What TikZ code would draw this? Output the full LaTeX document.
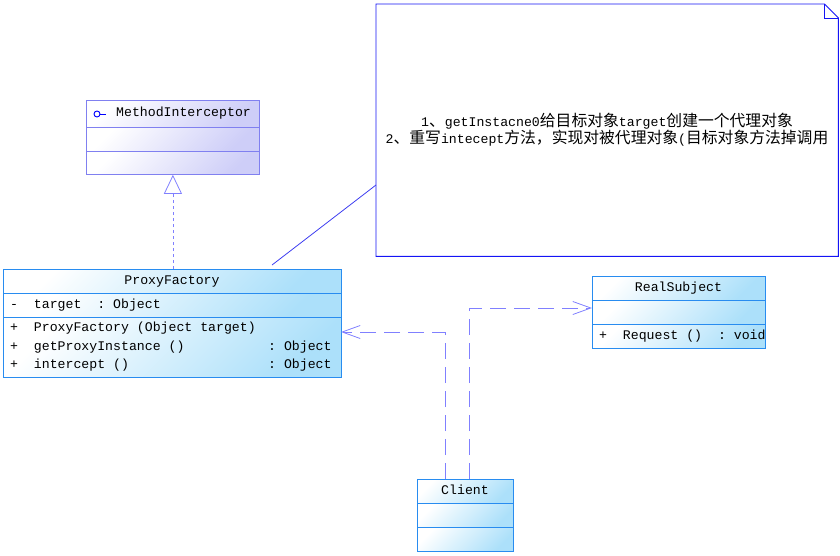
\documentclass[tikz,border=0pt]{standalone}
\usepackage{fontspec}
\setmonofont{Liberation Mono}
\newfontfamily\cjkfont{Noto Sans CJK SC}
\usetikzlibrary{arrows.meta,calc}
\definecolor{miBorder}{RGB}{128,128,240}
\definecolor{miFill}{RGB}{206,206,248}
\definecolor{pfBorder}{RGB}{40,140,240}
\definecolor{pfFill}{RGB}{172,224,250}
\definecolor{noteBorder}{RGB}{20,20,245}
\definecolor{noteLink}{RGB}{60,60,240}
\definecolor{depColor}{RGB}{128,128,255}
\newcommand{\zh}[1]{{\cjkfont\fontsize{15.8}{16}\selectfont #1}}
\begin{document}
\begin{tikzpicture}[x=1pt,y=-1pt,
  mono/.style={font=\ttfamily\fontsize{13.2}{16}\selectfont, inner sep=0pt, text height=9pt, text depth=2.5pt},
  clsbox/.style={draw=#1, line width=0.8pt, anchor=north west, inner sep=0pt},
  bluegrad/.style={top color=white, bottom color=pfFill, shading angle=45},
  purplegrad/.style={top color=white, bottom color=miFill, shading angle=45},
  dep/.style={draw=depColor, line width=0.8pt, dash pattern=on 16pt off 8pt, -{Straight Barb[length=18pt,width=13pt]}},
  realize/.style={draw=depColor, line width=0.8pt, dash pattern=on 3pt off 3pt, -{Triangle[open,length=19pt,width=18pt]}},
]
\useasboundingbox (0,0) rectangle (840,555);

% ---------- MethodInterceptor ----------
\shade[purplegrad] (86,100) rectangle (259,127);
\shade[purplegrad] (86,127) rectangle (259,151);
\shade[purplegrad] (86,151) rectangle (259,174);
\node[clsbox=miBorder, minimum width=173pt, minimum height=74pt] (mi) at (86,100) {};
\draw[miBorder, line width=0.8pt] (86,127) -- (259,127) (86,151) -- (259,151);
\node[circle, draw=blue, line width=0.9pt, minimum size=6pt, inner sep=0pt] (miicon) at (97,114) {};
\draw[blue, line width=0.9pt] (miicon.east) -- ++(6,0);
\node[mono, anchor=west] (mit) at (116,113) {MethodInterceptor};

% ---------- ProxyFactory ----------
\shade[bluegrad] (3,269) rectangle (341,293);
\shade[bluegrad] (3,293) rectangle (341,317);
\shade[bluegrad] (3,317) rectangle (341,377);
\node[clsbox=pfBorder, minimum width=338pt, minimum height=108pt] (pf) at (3,269) {};
\draw[pfBorder, line width=0.8pt] (3,293) -- (341,293) (3,317) -- (341,317);
\node[mono, anchor=center] (pft) at (172,281) {ProxyFactory};
\node[mono, anchor=west] (pfa1) at (10,305) {-\ \ target\ \ :\ Object};
\node[mono, anchor=west] (pfo1) at (10,328) {+\ \ ProxyFactory (Object target)};
\node[mono, anchor=west] (pfo2) at (10,347) {+\ \ getProxyInstance ()};
\node[mono, anchor=west] (pfo3) at (10,365) {+\ \ intercept ()};
\node[mono, anchor=west] (pfr2) at (268,347) {:\ Object};
\node[mono, anchor=west] (pfr3) at (268,365) {:\ Object};

% ---------- RealSubject ----------
\shade[bluegrad] (592,276) rectangle (765,300);
\shade[bluegrad] (592,300) rectangle (765,324);
\shade[bluegrad] (592,324) rectangle (765,348);
\node[clsbox=pfBorder, minimum width=173pt, minimum height=72pt] (rs) at (592,276) {};
\draw[pfBorder, line width=0.8pt] (592,300) -- (765,300) (592,324) -- (765,324);
\node[mono, anchor=center] (rst) at (678.5,288) {RealSubject};
\node[mono, anchor=west] (rso) at (599,336) {+\ \ Request ()\ \ :\ void};

% ---------- Client ----------
\shade[bluegrad] (417,479) rectangle (513,503);
\shade[bluegrad] (417,503) rectangle (513,527);
\shade[bluegrad] (417,527) rectangle (513,551);
\node[clsbox=pfBorder, minimum width=96pt, minimum height=72pt] (cl) at (417,479) {};
\draw[pfBorder, line width=0.8pt] (417,503) -- (513,503) (417,527) -- (513,527);
\node[mono, anchor=center] (clt) at (465,491) {Client};

% ---------- Note ----------
\node[anchor=north west, minimum width=462pt, minimum height=252pt, inner sep=0pt] (note) at (376,4) {};
\draw[noteBorder, line width=0.9pt]
  (note.north west) -- ($(note.north east)+(-14,0)$) -- ($(note.north east)+(0,14)$)
  -- (note.south east) -- (note.south west) -- cycle;
\draw[noteBorder, line width=0.9pt]
  ($(note.north east)+(-14,0)$) -- ($(note.north east)+(-14,14)$) -- ($(note.north east)+(0,14)$);
\node[mono, align=center, text height=, text depth=, anchor=center] (notetext) at (607,130)
  {1\zh{、}getInstacne0\zh{给目标对象}target\zh{创建一个代理对象}\\
   2\zh{、重写}intecept\zh{方法，实现对被代理对象}(\zh{目标对象方法掉调用}};

% ---------- Connectors ----------
\coordinate (pfnote) at (272,265);
\coordinate (notein) at (376,185);
\draw[noteLink, line width=0.8pt] (pfnote) -- (notein);

\draw[realize] (pf.north -| mi.south) -- (mi.south);

\coordinate (clA) at (445,479);
\coordinate (clB) at (469,479);
\coordinate (pfin) at (341,332);
\coordinate (rsin) at (592,308);
\draw[dep] (clA) |- (pfin);
\draw[dep] (clB) |- (rsin);
\end{tikzpicture}
\end{document}
